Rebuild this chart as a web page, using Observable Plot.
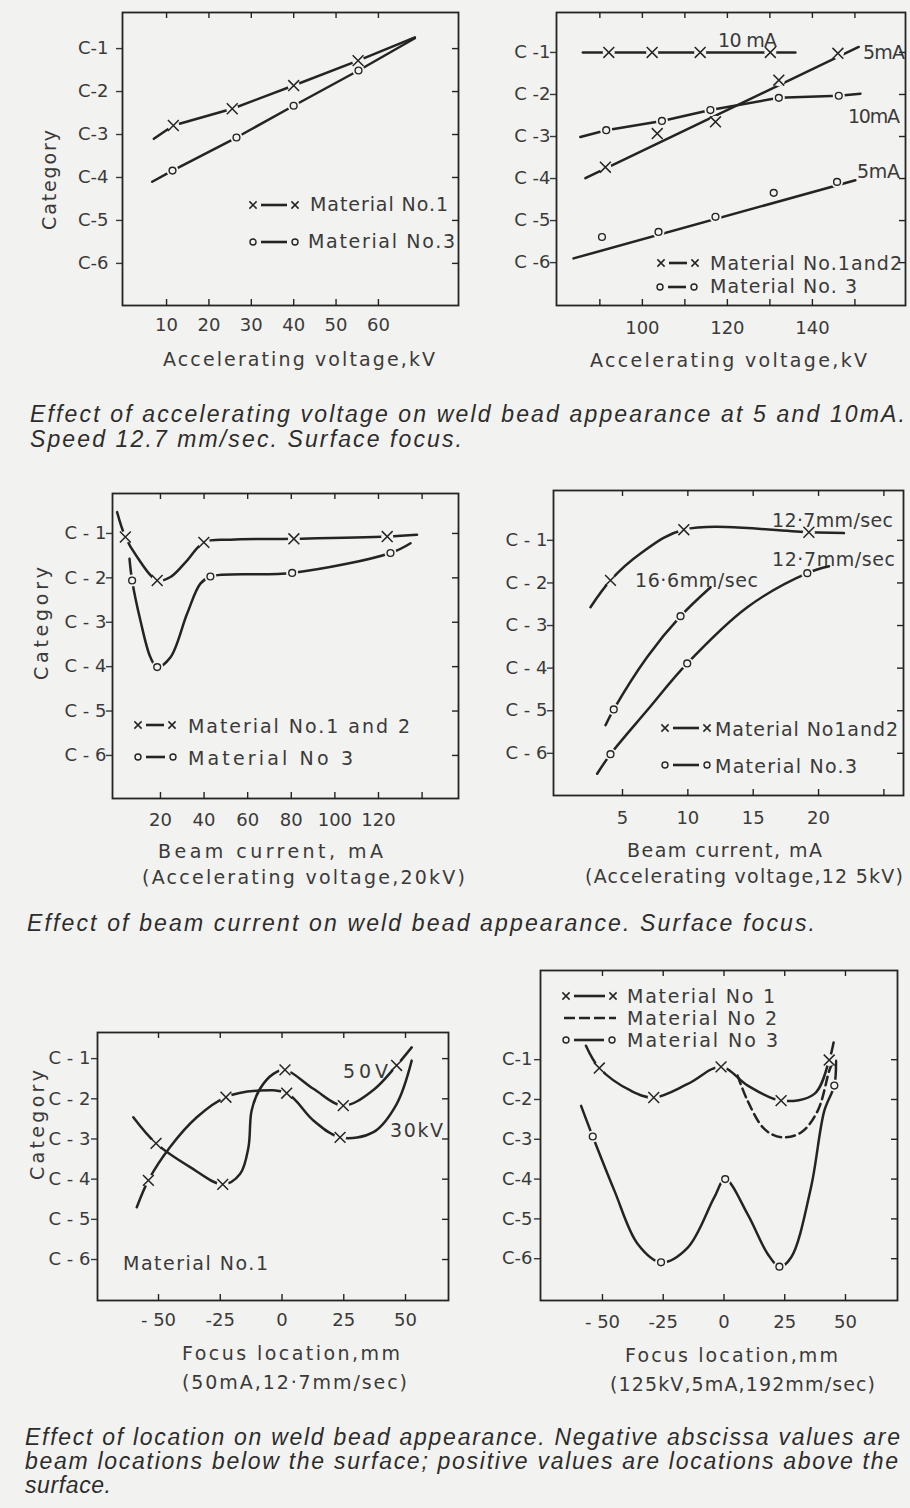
<!DOCTYPE html>
<html>
<head>
<meta charset="utf-8">
<script src="https://cdn.jsdelivr.net/npm/d3@7"></script>
<script src="https://cdn.jsdelivr.net/npm/@observablehq/plot@0.6"></script>
<style>
  html, body { margin: 0; padding: 0; background: #f2f2f0; }
  #page { position: relative; width: 910px; height: 1508px; overflow: hidden; background: #f2f2f0; }
  #overlay { position: absolute; left: 0; top: 0; pointer-events: none; }
</style>
</head>
<body>
<div id="page"></div>
<script>
// ---------------- DATA ----------------
const categories = [1, 2, 3, 4, 5, 6];

// Panel 1 : accelerating voltage (kV), 5-10 mA, low range
const p1XTicks = [10, 20, 30, 40, 50, 60];
const p1YLabels = ["C-1", "C-2", "C-3", "C-4", "C-5", "C-6"];
const p1Mat1LineKv = [7, 11.6, 25.5, 40, 55.2, 68.6];
const p1Mat1LineCat = [3.1, 2.79, 2.40, 1.86, 1.28, 0.74];
const p1Mat1PtKv = [11.6, 25.5, 40, 55.2];
const p1Mat1PtCat = [2.79, 2.40, 1.86, 1.28];
const p1Mat3LineKv = [6.6, 11.4, 26.5, 40, 55.3, 68.6];
const p1Mat3LineCat = [4.1, 3.84, 3.07, 2.33, 1.51, 0.76];
const p1Mat3PtKv = [11.4, 26.5, 40, 55.3];
const p1Mat3PtCat = [3.84, 3.07, 2.33, 1.51];

// Panel 2 : accelerating voltage (kV), high range
const p2XTicks = [90, 100, 110, 120, 130, 140, 150];
const p2XLabels = [100, 120, 140];
const p2YLabels = ["C -1", "C -2", "C -3", "C -4", "C -5", "C -6"];
const p2M12_10LineKv = [86, 136];
const p2M12_10LineCat = [1.0, 1.0];
const p2M12_10PtKv = [92.1, 102.3, 113.6, 130.1];
const p2M12_10PtCat = [1.0, 1.0, 1.0, 1.0];
const p2M12_5LineKv = [86.6, 150.9];
const p2M12_5LineCat = [3.99, 0.87];
const p2M12_5PtKv = [91.3, 103.5, 117.2, 132.1, 146];
const p2M12_5PtCat = [3.73, 2.93, 2.65, 1.66, 1.02];
const p2M3_10LineKv = [85.4, 91.5, 104.6, 116, 132.1, 146.2, 151.3];
const p2M3_10LineCat = [3.01, 2.85, 2.63, 2.37, 2.08, 2.03, 1.98];
const p2M3_10PtKv = [91.5, 104.6, 116, 132.1, 146.2];
const p2M3_10PtCat = [2.85, 2.63, 2.37, 2.08, 2.03];
const p2M3_5LineKv = [83.8, 150.1];
const p2M3_5LineCat = [5.9, 4.04];
const p2M3_5PtKv = [90.5, 103.8, 117.2, 130.9, 145.8];
const p2M3_5PtCat = [5.39, 5.27, 4.91, 4.34, 4.08];

// Panel 3 : beam current (mA), 20 kV
const p3XTicks = [20, 40, 60, 80, 100, 120, 140];
const p3XLabels = [20, 40, 60, 80, 100, 120];
const p3YLabels = ["C - 1", "C - 2", "C - 3", "C - 4", "C - 5", "C - 6"];
const p3M12LineMa = [0.1, 3.9, 9.3, 18.5, 24.6, 32.2, 39.9, 52.1, 81.2, 124, 137.7];
const p3M12LineCat = [0.52, 1.08, 1.53, 2.06, 1.98, 1.61, 1.2, 1.14, 1.12, 1.07, 1.03];
const p3M12PtMa = [3.9, 18.5, 39.9, 81.2, 124];
const p3M12PtCat = [1.08, 2.06, 1.2, 1.12, 1.07];
const p3M3LineMa = [5.8, 7, 10.8, 15.4, 18.5, 24.6, 32.2, 38.3, 42.9, 80.4, 125.5, 134.7];
const p3M3LineCat = [1.57, 2.06, 2.96, 3.79, 4.01, 3.79, 2.81, 2.13, 1.97, 1.89, 1.44, 1.22];
const p3M3PtMa = [7, 18.5, 42.9, 80.4, 125.5];
const p3M3PtCat = [2.06, 4.01, 1.97, 1.89, 1.44];

// Panel 4 : beam current (mA), 12.5 kV
const p4XTicks = [5, 10, 15, 20, 25];
const p4XLabels = [5, 10, 15, 20];
const p4YLabels = ["C - 1", "C - 2", "C - 3", "C - 4", "C - 5", "C - 6"];
const p4M12LineMa = [2.55, 4.08, 6.38, 9.69, 19.26, 21.94];
const p4M12LineCat = [2.57, 1.94, 1.31, 0.75, 0.81, 0.83];
const p4M12PtMa = [4.08, 9.69, 19.26];
const p4M12PtCat = [1.94, 0.75, 0.81];
const p4M3s166LineMa = [3.7, 4.33, 6.89, 9.44, 11.74];
const p4M3s166LineCat = [5.34, 4.97, 3.74, 2.78, 2.1];
const p4M3s166PtMa = [4.33, 9.44];
const p4M3s166PtCat = [4.97, 2.78];
const p4M3s127LineMa = [3.06, 4.08, 6.89, 9.95, 14.55, 19.14, 20.8];
const p4M3s127LineCat = [6.48, 6.02, 4.99, 3.89, 2.57, 1.77, 1.61];
const p4M3s127PtMa = [4.08, 9.95, 19.14];
const p4M3s127PtCat = [6.02, 3.89, 1.77];

// Panel 5 : focus location (mm), material No.1
const p5XTicks = [-50, -25, 0, 25, 50];
const p5XLabels = ["- 50", "-25", "0", "25", "50"];
const p5YLabels = ["C - 1", "C - 2", "C - 3", "C - 4", "C - 5", "C - 6"];
const p5V50LineMm = [-60.2, -51, -37.2, -24, -17, -13.6, -12.3, -8.9, -3.5, 1.2, 12.7, 24.8, 37, 46.4, 52.5];
const p5V50LineCat = [2.46, 3.11, 3.7, 4.13, 3.87, 3.21, 2.29, 1.75, 1.38, 1.28, 1.75, 2.17, 1.78, 1.17, 0.72];
const p5V50PtMm = [-51, -24, 1.2, 24.8, 46.4];
const p5V50PtCat = [3.11, 4.13, 1.28, 2.17, 1.17];
const p5K30LineMm = [-58.8, -54.1, -45.3, -34.5, -22.7, -10.2, 1.9, 12.7, 23.5, 37, 46.4, 52.5];
const p5K30LineCat = [4.7, 4.03, 3.2, 2.46, 1.96, 1.8, 1.86, 2.54, 2.96, 2.83, 2.13, 1.05];
const p5K30PtMm = [-54.1, -22.7, 1.9, 23.5];
const p5K30PtCat = [4.03, 1.96, 1.86, 2.96];

// Panel 6 : focus location (mm), 125 kV
const p6XTicks = [-50, -25, 0, 25, 50];
const p6XLabels = ["- 50", "-25", "0", "25", "50"];
const p6YLabels = ["C-1", "C-2", "C-3", "C-4", "C-5", "C-6"];
const p6M1LineMm = [-56.8, -51.3, -38.3, -28.9, -14.9, -1.2, 9.8, 23.5, 37.2, 43.3, 45.1];
const p6M1LineCat = [0.65, 1.21, 1.78, 1.95, 1.61, 1.18, 1.65, 2.03, 1.86, 1.01, 0.57];
const p6M1PtMm = [-51.3, -28.9, -1.2, 23.5, 43.3];
const p6M1PtCat = [1.21, 1.95, 1.18, 2.03, 1.01];
const p6M2LineMm = [5.6, 9.7, 16.6, 23.5, 31.7, 38.6, 43.3, 44.5];
const p6M2LineCat = [1.4, 2.03, 2.74, 2.95, 2.83, 2.28, 1.28, 1.1];
const p6M3LineMm = [-58.8, -54, -45.1, -35.5, -25.9, -14.9, -4, 0.5, 9.7, 18, 22.8, 27.6, 35.8, 41.3, 45.4, 46.1];
const p6M3LineCat = [2.16, 2.93, 4.29, 5.63, 6.09, 5.72, 4.46, 4.0, 4.88, 5.88, 6.2, 5.97, 4.21, 2.28, 1.65, 1.03];
const p6M3PtMm = [-54, -25.9, 0.5, 22.8, 45.4];
const p6M3PtCat = [2.93, 6.09, 4.0, 6.2, 1.65];

// ---------------- STYLE ----------------
const BG = "#f2f2f0", INK = "#242424", TXT = "#3a3a3a";
const page = document.getElementById("page");
const pts = (xs, ys) => xs.map((x, i) => ({x, y: ys[i]}));

function curveMark(xs, ys, curve = "linear", dash = null) {
  return Plot.line(pts(xs, ys), {x: "x", y: "y", stroke: INK, strokeWidth: 2.5, curve, strokeDasharray: dash, strokeLinecap: "round"});
}
function crosses(xs, ys) {
  return [
    Plot.dot(pts(xs, ys), {x: "x", y: "y", r: 6, fill: BG, stroke: null}),
    Plot.dot(pts(xs, ys), {x: "x", y: "y", symbol: "times", r: 5, stroke: INK, strokeWidth: 1.5})
  ];
}
function circles(xs, ys) {
  return [
    Plot.dot(pts(xs, ys), {x: "x", y: "y", r: 6, fill: BG, stroke: null}),
    Plot.dot(pts(xs, ys), {x: "x", y: "y", r: 3.4, fill: BG, stroke: INK, strokeWidth: 1.4})
  ];
}

function panel(cfg) {
  const ml = 80, mr = 10, mt = 10, mb = 40, tk = 6;
  const [fl, ft, fr, fb] = cfg.frame;
  const fw = fr - fl, fh = fb - ft;
  const chart = Plot.plot({
    width: fw + ml + mr,
    height: fh + mt + mb,
    marginLeft: ml, marginRight: mr, marginTop: mt, marginBottom: mb,
    style: {background: "transparent", fontFamily: "DejaVu Sans", fontSize: "18px", color: TXT, overflow: "visible"},
    x: {domain: cfg.xDomain},
    y: {domain: cfg.yDomain},
    marks: [
      Plot.axisY({anchor: "left", ticks: categories, tickFormat: (d, i) => cfg.yLabels[i], tickSize: 6, tickPadding: cfg.yPad, label: null, strokeWidth: 1.4}),
      Plot.axisX({anchor: "bottom", ticks: cfg.xLabels, tickFormat: cfg.xFmt || (d => String(d)), tickSize: 0, tickPadding: cfg.xPad, label: null}),
      // inward ticks on the right, top and bottom edges
      Plot.tickY(categories, {y: d => d, insetLeft: fw - tk, stroke: INK, strokeWidth: 1.4}),
      Plot.tickX(cfg.xTicks, {x: d => d, insetBottom: fh - tk, stroke: INK, strokeWidth: 1.4}),
      Plot.tickX(cfg.xTicks, {x: d => d, insetTop: fh - tk, stroke: INK, strokeWidth: 1.4}),
      Plot.frame({stroke: INK, strokeWidth: 1.8}),
      ...cfg.marks
    ]
  });
  chart.style.position = "absolute";
  chart.style.left = (fl - ml) + "px";
  chart.style.top = (ft - mt) + "px";
  page.appendChild(chart);
}

// Panel 1
panel({
  frame: [122, 12, 458, 305], xDomain: [-0.4, 78.9], yDomain: [6.98, 0.16],
  xTicks: p1XTicks, xLabels: p1XTicks, yLabels: p1YLabels, yPad: 8, xPad: 13,
  marks: [
    curveMark(p1Mat1LineKv, p1Mat1LineCat), curveMark(p1Mat3LineKv, p1Mat3LineCat),
    ...crosses(p1Mat1PtKv, p1Mat1PtCat), ...circles(p1Mat3PtKv, p1Mat3PtCat)
  ]
});
// Panel 2
panel({
  frame: [556, 12, 905, 305], xDomain: [79.8, 161.9], yDomain: [7.02, 0.05],
  xTicks: p2XTicks, xLabels: p2XLabels, yLabels: p2YLabels, yPad: 0, xPad: 16,
  marks: [
    curveMark(p2M12_10LineKv, p2M12_10LineCat), curveMark(p2M12_5LineKv, p2M12_5LineCat),
    curveMark(p2M3_10LineKv, p2M3_10LineCat), curveMark(p2M3_5LineKv, p2M3_5LineCat),
    ...crosses(p2M12_10PtKv, p2M12_10PtCat), ...crosses(p2M12_5PtKv, p2M12_5PtCat),
    ...circles(p2M3_10PtKv, p2M3_10PtCat), ...circles(p2M3_5PtKv, p2M3_5PtCat)
  ]
});
// Panel 3
panel({
  frame: [112, 493, 458, 798], xDomain: [-2, 156.7], yDomain: [6.97, 0.1],
  xTicks: p3XTicks, xLabels: p3XLabels, yLabels: p3YLabels, yPad: 0, xPad: 15,
  marks: [
    curveMark(p3M12LineMa, p3M12LineCat, "catmull-rom"), curveMark(p3M3LineMa, p3M3LineCat, "catmull-rom"),
    ...crosses(p3M12PtMa, p3M12PtCat), ...circles(p3M3PtMa, p3M3PtCat)
  ]
});
// Panel 4
panel({
  frame: [553, 490, 903, 795], xDomain: [-0.28, 26.5], yDomain: [6.99, -0.17],
  xTicks: p4XTicks, xLabels: p4XLabels, yLabels: p4YLabels, yPad: 0, xPad: 16,
  marks: [
    curveMark(p4M12LineMa, p4M12LineCat, "catmull-rom"), curveMark(p4M3s166LineMa, p4M3s166LineCat, "catmull-rom"),
    curveMark(p4M3s127LineMa, p4M3s127LineCat, "catmull-rom"),
    ...crosses(p4M12PtMa, p4M12PtCat), ...circles(p4M3s166PtMa, p4M3s166PtCat), ...circles(p4M3s127PtMa, p4M3s127PtCat)
  ]
});
// Panel 5
panel({
  frame: [97, 1032, 448, 1300], xDomain: [-74.7, 67.4], yDomain: [7.02, 0.35],
  xTicks: p5XTicks, xLabels: p5XTicks, xFmt: (d, i) => p5XLabels[i], yLabels: p5YLabels, yPad: 1, xPad: 13,
  marks: [
    curveMark(p5V50LineMm, p5V50LineCat, "catmull-rom"), curveMark(p5K30LineMm, p5K30LineCat, "catmull-rom"),
    ...crosses(p5V50PtMm, p5V50PtCat), ...crosses(p5K30PtMm, p5K30PtCat)
  ]
});
// Panel 6
panel({
  frame: [540, 970, 897, 1300], xDomain: [-75.5, 71.4], yDomain: [7.05, -1.24],
  xTicks: p6XTicks, xLabels: p6XTicks, xFmt: (d, i) => p6XLabels[i], yLabels: p6YLabels, yPad: 2, xPad: 15,
  marks: [
    curveMark(p6M2LineMm, p6M2LineCat, "catmull-rom", "9,5"),
    curveMark(p6M1LineMm, p6M1LineCat, "catmull-rom"), curveMark(p6M3LineMm, p6M3LineCat, "catmull-rom"),
    ...crosses(p6M1PtMm, p6M1PtCat), ...circles(p6M3PtMm, p6M3PtCat)
  ]
});

// ---------------- TEXT OVERLAY (titles, axis labels, legends, notes) ----------------
const LABEL_FONT = "font-family:'DejaVu Sans';font-size:19px;fill:" + TXT;
const CAP_FONT = "font-family:'Liberation Sans';font-style:italic;font-size:23px;fill:#2c2c2c";
function T(x, y, s, len, style = LABEL_FONT) {
  return `<text x="${x}" y="${y}" textLength="${len}" lengthAdjust="spacing" style="${style}">${s}</text>`;
}
function R(x, yBottom, s, len) {
  return `<text transform="translate(${x},${yBottom}) rotate(-90)" textLength="${len}" lengthAdjust="spacing" style="${LABEL_FONT}">${s}</text>`;
}
function xm(cx, cy) {
  const r = 3.6;
  return `<path d="M${cx - r},${cy - r}L${cx + r},${cy + r}M${cx - r},${cy + r}L${cx + r},${cy - r}" stroke="${INK}" stroke-width="1.5"/>`;
}
function om(cx, cy) { return `<circle cx="${cx}" cy="${cy}" r="3" fill="${BG}" stroke="${INK}" stroke-width="1.4"/>`; }
function sw(x1, x2, y, kind) {
  if (kind === "dash") return `<line x1="${x1 - 4}" x2="${x2 + 4}" y1="${y}" y2="${y}" stroke="${INK}" stroke-width="2.6" stroke-dasharray="11,4"/>`;
  const m = kind === "x" ? xm : om;
  return `<line x1="${x1 + 8}" x2="${x2 - 8}" y1="${y}" y2="${y}" stroke="${INK}" stroke-width="2.6"/>` + m(x1, y) + m(x2, y);
}

let o = "";
// Panel 1
o += R(56, 230, "Category", 100);
o += T(163, 366, "Accelerating  voltage,kV", 272);
o += sw(253, 295, 205, "x") + T(310, 211, "Material No.1", 138);
o += sw(253, 295, 242, "o") + T(308, 248, "Material No.3", 147);
// Panel 2
o += T(590, 367, "Accelerating voltage,kV", 277);
o += sw(661, 695, 263, "x") + T(710, 270, "Material No.1and2", 192);
o += sw(660, 694, 287, "o") + T(710, 293, "Material No. 3", 147);
o += T(718, 47, "10 mA", 59);
o += T(863, 59, "5mA", 42);
o += T(848, 123, "10mA", 52);
o += T(857, 178, "5mA", 43);
// Panel 3
o += R(48, 680, "Category", 113);
o += T(158, 858, "Beam  current, mA", 225);
o += T(142, 884, "(Accelerating voltage,20kV)", 323);
o += sw(138, 172, 725, "x") + T(188, 733, "Material No.1 and 2", 222);
o += sw(138, 173, 757, "o") + T(188, 765, "Material No 3", 165);
// Panel 4
o += T(627, 857, "Beam current, mA", 195);
o += T(585, 883, "(Accelerating voltage,12 5kV)", 318);
o += sw(665, 707, 728, "x") + T(715, 736, "Material No1and2", 183);
o += sw(665, 707, 765, "o") + T(715, 773, "Material No.3", 142);
o += T(772, 527, "12·7mm/sec", 121);
o += T(772, 566, "12·7mm/sec", 123);
o += T(635, 587, "16·6mm/sec", 123);
// Panel 5
o += R(44, 1180, "Category", 110);
o += T(182, 1360, "Focus location,mm", 218);
o += T(182, 1389, "(50mA,12·7mm/sec)", 225);
o += T(343, 1078, "50V", 45);
o += T(390, 1137, "30kV", 53);
o += T(123, 1270, "Material  No.1", 145);
// Panel 6
o += T(625, 1362, "Focus location,mm", 213);
o += T(610, 1391, "(125kV,5mA,192mm/sec)", 265);
o += sw(566, 613, 996, "x") + T(627, 1003, "Material  No 1", 148);
o += sw(568, 612, 1018, "dash") + T(627, 1025, "Material  No 2", 150);
o += sw(566, 612, 1040, "o") + T(627, 1047, "Material  No 3", 151);
// Captions
o += T(30, 422, "Effect of accelerating voltage on weld bead appearance at 5 and 10mA.", 875, CAP_FONT);
o += T(30, 447, "Speed 12.7 mm/sec. Surface focus.", 432, CAP_FONT);
o += T(27, 931, "Effect of beam current on weld bead appearance. Surface focus.", 788, CAP_FONT);
o += T(25, 1445, "Effect of location on weld bead appearance. Negative abscissa values are", 875, CAP_FONT);
o += T(25, 1469, "beam locations below the surface; positive values are locations above the", 873, CAP_FONT);
o += T(25, 1493, "surface.", 86, CAP_FONT);

const ov = document.createElementNS("http://www.w3.org/2000/svg", "svg");
ov.setAttribute("id", "overlay");
ov.setAttribute("width", 910);
ov.setAttribute("height", 1508);
ov.innerHTML = o;
page.appendChild(ov);
</script>
</body>
</html>
